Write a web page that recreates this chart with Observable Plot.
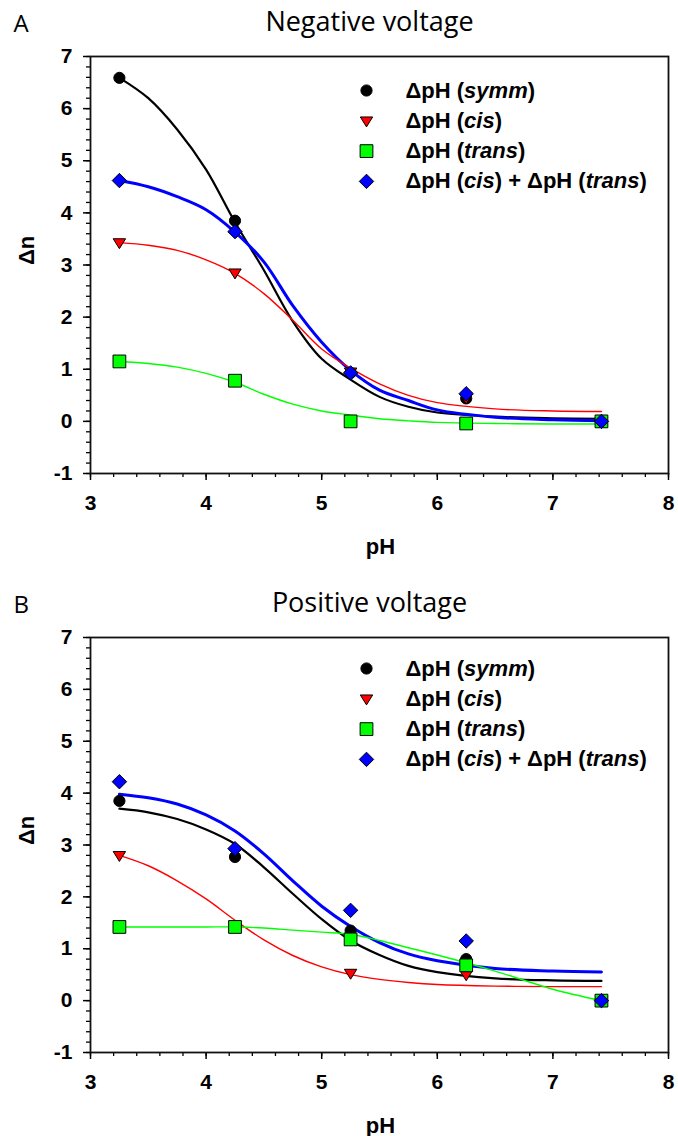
<!DOCTYPE html>
<html><head><meta charset="utf-8">
<script src="https://cdn.jsdelivr.net/npm/d3@7"></script>
<script src="https://cdn.jsdelivr.net/npm/@observablehq/plot@0.6"></script>
<style>body{margin:0;background:#fff} svg{display:block}</style>
</head><body><div id="chart"></div>
<script>
// ---- shared categories / ticks ----
const pH = [3.25, 4.25, 5.25, 6.25, 7.42];
const seriesLabels = ["ΔpH (symm)", "ΔpH (cis)", "ΔpH (trans)", "ΔpH (cis) + ΔpH (trans)"];
const seriesColors = ["#000000", "#ff0000", "#00ff00", "#0000ff"];
const yTicks = [-1, 0, 1, 2, 3, 4, 5, 6, 7];
const xTicks = [3, 4, 5, 6, 7, 8];
const fitPH = [3.25, 3.5, 3.75, 4, 4.25, 4.5, 4.75, 5, 5.25, 5.5, 5.75, 6, 6.5, 7, 7.42];

// ---- Panel A: negative voltage ----
const negSymm  = [6.59, 3.85, 0.93, 0.44, 0.00];
const negCis   = [3.43, 2.85, 0.95, 0.45, 0.00];
const negTrans = [1.15, 0.78, 0.00, -0.04, 0.00];
const negSum   = [4.62, 3.64, 0.93, 0.53, 0.00];
const negFitSymm  = [6.59, 6.20, 5.60, 4.83, 3.82, 2.90, 1.92, 1.20, 0.80, 0.47, 0.28, 0.17, 0.09, 0.06, 0.05];
const negFitCis   = [3.43, 3.38, 3.28, 3.10, 2.84, 2.45, 1.94, 1.39, 1.02, 0.72, 0.50, 0.36, 0.24, 0.20, 0.19];
const negFitTrans = [1.15, 1.11, 1.04, 0.92, 0.75, 0.52, 0.33, 0.20, 0.12, 0.05, 0.01, -0.02, -0.04, -0.05, -0.05];
const negFitSum   = [4.62, 4.50, 4.31, 4.06, 3.63, 3.06, 2.22, 1.52, 0.98, 0.60, 0.40, 0.22, 0.08, 0.03, 0.01];

// ---- Panel B: positive voltage ----
const posSymm  = [3.85, 2.77, 1.35, 0.80, 0.00];
const posCis   = [2.80, 1.45, 0.53, 0.50, 0.00];
const posTrans = [1.42, 1.42, 1.18, 0.68, 0.00];
const posSum   = [4.22, 2.93, 1.74, 1.15, 0.00];
const posFitSymm  = [3.70, 3.63, 3.50, 3.30, 3.02, 2.57, 2.06, 1.57, 1.16, 0.88, 0.67, 0.55, 0.43, 0.39, 0.38];
const posFitCis   = [2.80, 2.60, 2.31, 1.96, 1.55, 1.17, 0.87, 0.65, 0.50, 0.41, 0.35, 0.31, 0.28, 0.27, 0.27];
const posFitTrans = [1.42, 1.42, 1.42, 1.42, 1.42, 1.40, 1.36, 1.32, 1.28, 1.16, 1.02, 0.88, 0.57, 0.22, 0.00];
const posFitSum   = [3.98, 3.91, 3.79, 3.58, 3.27, 2.83, 2.31, 1.82, 1.43, 1.12, 0.90, 0.77, 0.62, 0.57, 0.55];

// ---- styling ----
const triangleDown = {
  draw(ctx, size) {
    const r = Math.sqrt(size / Math.PI);
    ctx.moveTo(-r, -0.62 * r);
    ctx.lineTo(r, -0.62 * r);
    ctx.lineTo(0, 0.98 * r);
    ctx.closePath();
  }
};
const symbolSpec = [
  {symbol: "circle", r: 5.6},
  {symbol: triangleDown, r: 6.2},
  {symbol: "square", r: 7.2},
  {symbol: "diamond2", r: 6.5}
];
const lineWidths = [2.2, 1.4, 1.4, 3];
const lineOrder = [0, 3, 1, 2];
const FONT = "'Liberation Sans', Arial, sans-serif";

function panel({letter, title, points, fits, height, marginBottom, legendTop}) {
  const marginLeft = 90, marginTop = 56;
  const marks = [];
  // minor + major ticks
  marks.push(Plot.axisY(d3.ticks(-1, 7, 40), {tickSize: 4, text: null, strokeWidth: 1.3}));
  marks.push(Plot.axisX(d3.ticks(3, 8, 25), {tickSize: 4, text: null, strokeWidth: 1.3}));
  marks.push(Plot.axisY(yTicks, {tickSize: 7, tickPadding: 11, strokeWidth: 1.5, fontSize: 21, fontWeight: "bold", label: null, tickFormat: d => String(d)}));
  marks.push(Plot.axisX(xTicks, {tickSize: 7, tickPadding: 15, strokeWidth: 1.5, fontSize: 21, fontWeight: "bold", label: null, tickFormat: d => String(d)}));
  marks.push(Plot.frame({stroke: "#111", strokeWidth: 1.8}));
  // fitted curves
  for (const s of lineOrder) {
    marks.push(Plot.line(fitPH, {
      x: d => d, y: (d, i) => fits[s][i],
      stroke: seriesColors[s], strokeWidth: lineWidths[s], curve: "catmull-rom"
    }));
  }
  // data points
  points.forEach((vals, s) => {
    marks.push(Plot.dot(vals, {
      x: (d, i) => pH[i], y: d => d,
      symbol: symbolSpec[s].symbol, r: symbolSpec[s].r,
      fill: seriesColors[s], stroke: "#000", strokeWidth: 1
    }));
  });
  // legend
  seriesLabels.forEach((lab, s) => {
    const dy = legendTop + 30.3 * s;
    marks.push(Plot.dot([lab], {
      frameAnchor: "top-left", dx: 366 - marginLeft, dy,
      symbol: symbolSpec[s].symbol, r: symbolSpec[s].r,
      fill: seriesColors[s], stroke: "#000", strokeWidth: 1
    }));
    marks.push(Plot.text([lab], {
      frameAnchor: "top-left", dx: 405 - marginLeft, dy,
      textAnchor: "start", lineAnchor: "middle",
      fontSize: 22, fontWeight: "bold", fill: "#000"
    }));
  });
  // axis labels & titles
  marks.push(Plot.text(["Δn"], {frameAnchor: "left", dx: -64, rotate: -90, fontSize: 22, fontWeight: "bold", lineAnchor: "middle"}));
  marks.push(Plot.text(["pH"], {frameAnchor: "bottom", dy: 73, dx: 1, lineAnchor: "middle", fontSize: 22, fontWeight: "bold"}));
  marks.push(Plot.text([title], {frameAnchor: "top", dx: -10, dy: -26, lineAnchor: "bottom", fontSize: 27, fontWeight: "normal", fontFamily: "'Open Sans', sans-serif"}));
  marks.push(Plot.text([letter], {frameAnchor: "top-left", dx: 13 - marginLeft, dy: -25, textAnchor: "start", lineAnchor: "bottom", fontSize: 24, fontWeight: "normal", fontFamily: "'Open Sans', sans-serif"}));

  const svg = Plot.plot({
    width: 678, height, marginLeft, marginRight: 10, marginTop, marginBottom,
    x: {domain: [3, 8], axis: null},
    y: {domain: [-1, 7], axis: null},
    style: {fontFamily: FONT, color: "#000", background: "#fff", overflow: "visible"},
    marks
  });
  // italicize the parenthesised parts of legend labels
  d3.select(svg).selectAll("text").each(function () {
    const t = this.textContent;
    if (!t.startsWith("ΔpH")) return;
    const el = d3.select(this).style("white-space", "pre");
    el.text(null);
    t.split(/(\([^)]*\))/).forEach(part => {
      if (!part) return;
      if (part.startsWith("(")) {
        el.append("tspan").text("(");
        el.append("tspan").attr("font-style", "italic").text(part.slice(1, -1));
        el.append("tspan").text(")");
      } else {
        el.append("tspan").text(part);
      }
    });
  });
  return svg;
}

const root = document.getElementById("chart");
root.appendChild(panel({
  letter: "A", title: "Negative voltage",
  points: [negSymm, negCis, negTrans, negSum],
  fits: [negFitSymm, negFitCis, negFitTrans, negFitSum],
  height: 581, marginBottom: 108, legendTop: 34
}));
root.appendChild(panel({
  letter: "B", title: "Positive voltage",
  points: [posSymm, posCis, posTrans, posSum],
  fits: [posFitSymm, posFitCis, posFitTrans, posFitSum],
  height: 555, marginBottom: 84, legendTop: 31
}));
</script>
</body></html>
